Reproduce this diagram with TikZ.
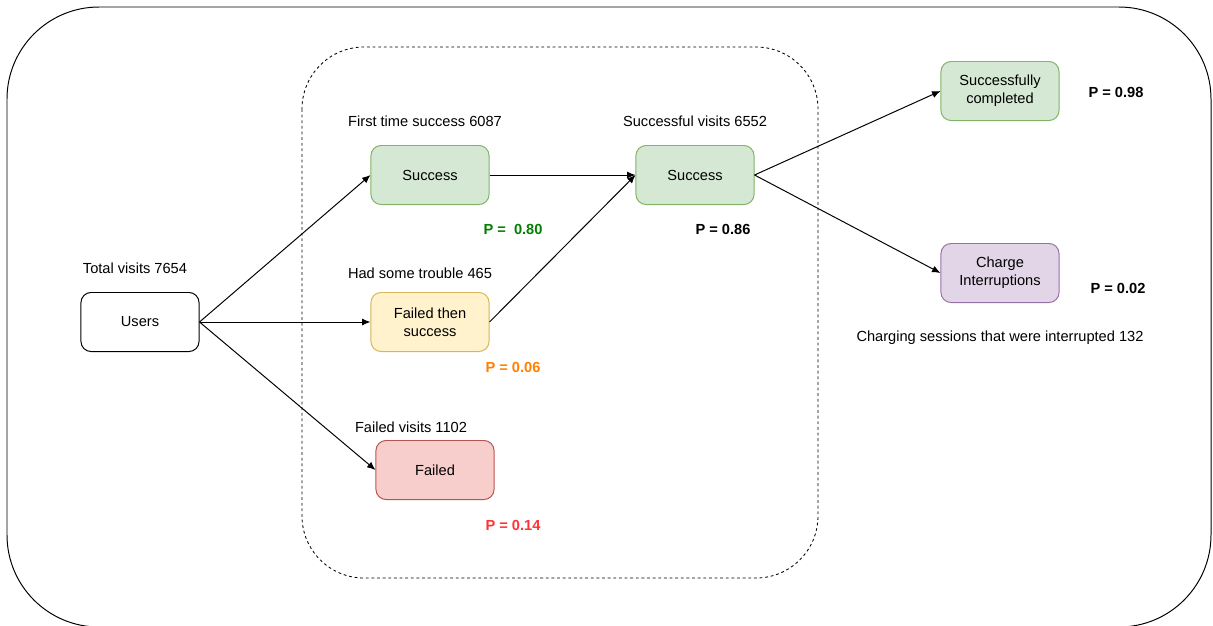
\documentclass[tikz,border=0pt]{standalone}
\usepackage{fontspec}
\setmainfont{Liberation Sans}
\usetikzlibrary{arrows.meta}
\definecolor{okfill}{HTML}{D5E8D4}\definecolor{okline}{HTML}{82B366}
\definecolor{warnfill}{HTML}{FFF2CC}\definecolor{warnline}{HTML}{D6B656}
\definecolor{badfill}{HTML}{F8CECC}\definecolor{badline}{HTML}{B85450}
\definecolor{cutfill}{HTML}{E1D5E7}\definecolor{cutline}{HTML}{9673A6}
\definecolor{pgreen}{HTML}{007F00}\definecolor{porange}{HTML}{FF8000}\definecolor{pred}{HTML}{FF3333}
\tikzset{
  box/.style={draw, line width=0.7pt, rounded corners=0.25cm, minimum width=2.95cm, minimum height=1.475cm, align=center, inner sep=0pt},
  prob/.style={font=\fontsize{10.4}{12.5}\selectfont\bfseries},
  flow/.style={line width=0.7pt,-{Latex[length=6pt,width=5pt]}}
}
\begin{document}
\begin{tikzpicture}[x=0.025cm,y=-0.025cm, every node/.append style={font=\fontsize{10.4}{12.5}\selectfont}]
			\useasboundingbox (0,0) rectangle (1213,626);
			\draw[line width=0.7pt,rounded corners=2.3cm] (7,7) rectangle (1211,627);
			\draw[line width=0.6pt,dash pattern=on 2pt off 2pt,rounded corners=1.55cm] (302,47) rectangle (818,578);
			\node[box] (users) at (140,322) {Users}; \node (tot) at (135,268) {Total visits 7654};
			\node[box,fill=okfill,draw=okline] (first) at (430,175) {Success}; \node (firstlbl) at (425,121) {First time success 6087};
			\node[box,fill=warnfill,draw=warnline] (retry) at (430,322) {Failed then\\success}; \node (retrylbl) at (420,273) {Had some trouble 465};
			\node[box,fill=badfill,draw=badline] (fail) at (435,470) {Failed}; \node (faillbl) at (411,427) {Failed visits 1102};
			\node[box,fill=okfill,draw=okline] (succ) at (695,175) {Success}; \node (succlbl) at (695,121) {Successful visits 6552};
			\node[box,fill=okfill,draw=okline] (done) at (1000,91) {Successfully\\completed};
			\node[box,fill=cutfill,draw=cutline] (cut) at (1000,273) {Charge\\Interruptions};
			\node (cutlbl) at (1000,338) {Charging sessions that were interrupted 132};
			%% probabilities
			\node[prob,text=pgreen] (pfirst) at (513,229) {P =\ \ 0.80};
			\node[prob] (psucc) at (723,229) {P = 0.86};
			\node[prob,text=porange] (pretry) at (513,367) {P = 0.06};
			\node[prob,text=pred] (pfail) at (513,525) {P = 0.14};
			\node[prob] (pdone) at (1116,92) {P = 0.98};
			\node[prob] (pcut) at (1118,288) {P = 0.02};
			%% arrows
			\draw[flow] (users.east) -- (first.west);
			\draw[flow] (users.east) -- (retry.west);
			\draw[flow] (users.east) -- (fail.west);
			\draw[flow] (first.east) -- (succ.west);
			\draw[flow] (retry.east) -- (succ.west);
			\draw[flow] (succ.east) -- (done.west);
			\draw[flow] (succ.east) -- (cut.west); %\draw[flow] (succ) -- (cut);
\end{tikzpicture}
\end{document}
